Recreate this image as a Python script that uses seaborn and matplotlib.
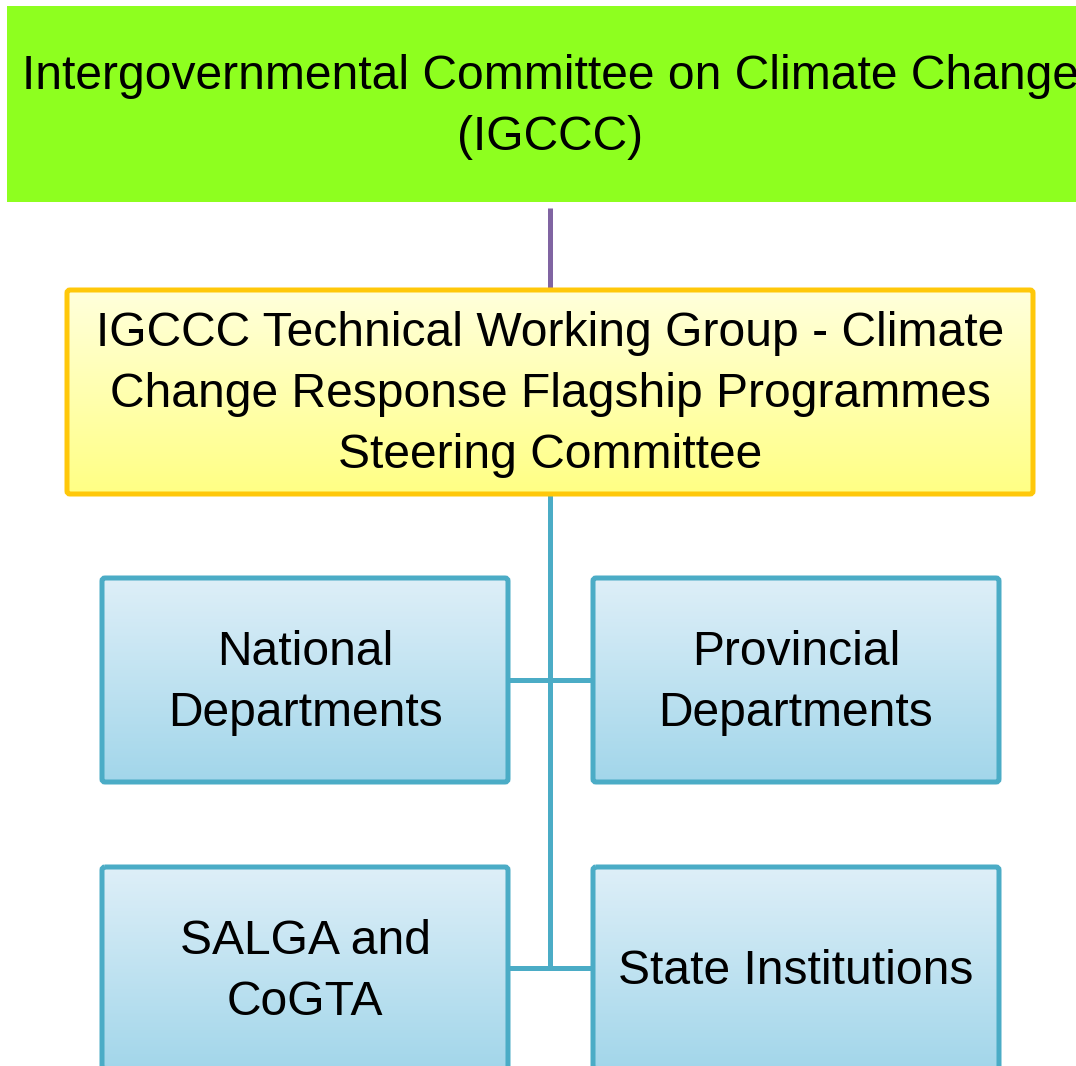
import numpy as np
import matplotlib
matplotlib.use("Agg")
import matplotlib.pyplot as plt
from matplotlib import font_manager
from matplotlib.colors import LinearSegmentedColormap
from matplotlib.patches import Rectangle, FancyBboxPatch
import seaborn as sns

# chart content
top_label = "Intergovernmental Committee on Climate Change\n(IGCCC)"
steering_label = ("IGCCC Technical Working Group - Climate\n"
                  "Change Response Flagship Programmes\nSteering Committee")
member_labels = ["National\nDepartments", "Provincial\nDepartments",
                 "SALGA and\nCoGTA", "State Institutions"]

sns.set_theme(style="white")

installed = {f.name for f in font_manager.fontManager.ttflist}
if "Liberation Sans Narrow" in installed:
    font, size_px = "Liberation Sans Narrow", 58.5
else:
    font, size_px = "Liberation Sans", 48
plt.rcParams["font.family"] = [font, "DejaVu Sans"]
fs = size_px * 72 / 100
cap = 0.716 * size_px
line_gap = 61

W, H = 1076, 1066
fig = plt.figure(figsize=(W / 100, H / 100), dpi=100)
ax = fig.add_axes([0, 0, 1, 1])

green = "#8EFF1F"
gold = "#FFC80A"
blue = "#4BACC6"
purple = "#8064A2"
lw = 3.6


def box_text(label, cx, cy):
    lines = label.split("\n")
    n = len(lines)
    first = cy - ((n - 1) * line_gap + cap) / 2 + cap
    for i, ln in enumerate(lines):
        ax.text(cx, first + i * line_gap, ln, ha="center", va="baseline",
                fontsize=fs, color="black", zorder=5)


def gradient_box(x0, y0, x1, y1, top, bottom, edge):
    cmap = LinearSegmentedColormap.from_list("g", [top, bottom])
    grad = np.linspace(0, 1, 256).reshape(-1, 1)
    ax.imshow(grad, cmap=cmap, extent=(x0, x1, y1, y0), aspect="auto",
              interpolation="bilinear", zorder=1)
    ax.add_patch(FancyBboxPatch((x0, y0), x1 - x0, y1 - y0,
                                boxstyle="round,pad=0,rounding_size=3",
                                fill=False, edgecolor=edge, lw=lw, zorder=3))


# top committee
ax.add_patch(Rectangle((7, 6), 1100, 196, facecolor=green, edgecolor="none", zorder=1))
box_text(top_label, 550, 102)

# link to steering committee
ax.plot([550, 550], [208, 290], color=purple, lw=lw, solid_capstyle="butt", zorder=2)

# steering committee
gradient_box(67, 290, 1033, 494, "#FFFFDC", "#FFFF84", gold)
box_text(steering_label, 550, 390)

# member boxes
member_boxes = [(102, 578, 508, 782), (593, 578, 999, 782),
                (102, 867, 508, 1071), (593, 867, 999, 1071)]
for label, (x0, y0, x1, y1) in zip(member_labels, member_boxes):
    gradient_box(x0, y0, x1, y1, "#DEEFF8", "#A2D6EA", blue)
    box_text(label, (x0 + x1) / 2, (y0 + y1) / 2 - 2)

# connectors
ax.plot([550, 550], [494, 968], color=blue, lw=lw, solid_capstyle="butt", zorder=2)
for y in [680, 968]:
    ax.plot([508, 593], [y, y], color=blue, lw=lw, solid_capstyle="butt", zorder=2)

ax.set_xlim(0, W)
ax.set_ylim(H, 0)
ax.set_aspect("auto")
ax.axis("off")
fig.savefig("out.png", dpi=100, facecolor="white")
